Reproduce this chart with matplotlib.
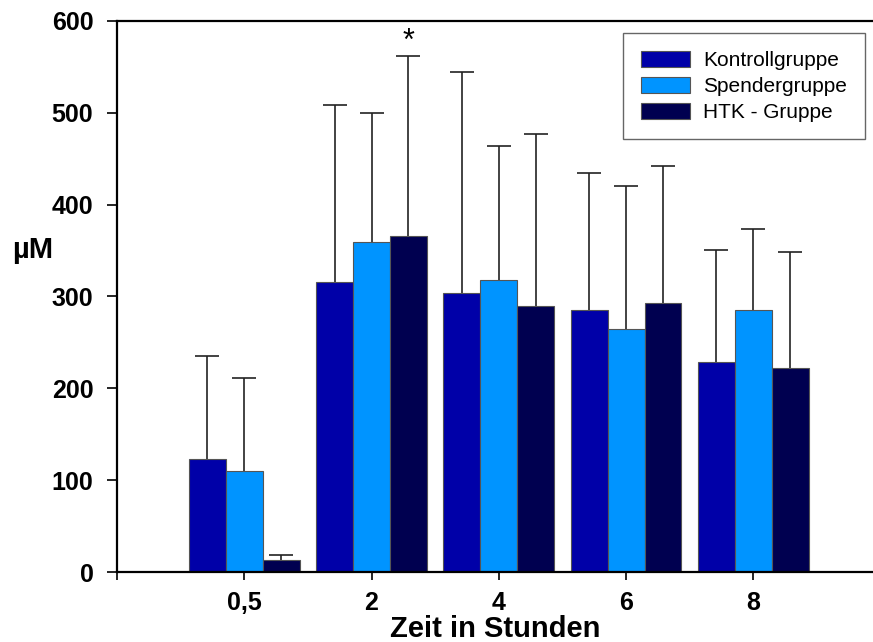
import matplotlib
matplotlib.use("Agg")
import matplotlib.pyplot as plt
import numpy as np

plt.rcParams['font.family'] = ['Liberation Sans', 'DejaVu Sans']

zeiten = ["0,5", "2", "4", "6", "8"]
gruppen = ["Kontrollgruppe", "Spendergruppe", "HTK - Gruppe"]
kontroll = [123, 316, 304, 285, 229]
kontroll_top = [235, 509, 544, 435, 351]
spender = [110, 359, 318, 265, 285]
spender_top = [211, 500, 464, 420, 373]
htk = [13, 366, 290, 293, 222]
htk_top = [19, 562, 477, 442, 349]
farben = ["#0000A8", "#0094FF", "#000050"]

fig = plt.figure(figsize=(8.73, 6.42), dpi=100)
ax = fig.add_axes([117 / 873, 70 / 642, 756 / 873, 551 / 642])

x = np.arange(len(zeiten))
w = 0.29
serien = [(kontroll, kontroll_top), (spender, spender_top), (htk, htk_top)]
for i, (werte, oben) in enumerate(serien):
    pos = x + (i - 1) * w
    err = np.array(oben) - np.array(werte)
    ax.bar(pos, werte, w, color=farben[i], edgecolor="#555555", linewidth=0.8,
           label=gruppen[i], zorder=2)
    _, caps, _ = ax.errorbar(pos, werte, yerr=[np.zeros(len(err)), err], fmt="none",
                             ecolor="#222222", elinewidth=1.2, capsize=8.5,
                             capthick=1.2, zorder=1)
    caps[0].set_visible(False)

# Signifikanz
ax.text(x[1] + w, 577, "*", ha="center", va="center", fontsize=22)

ax.set_xlim(-1, 4.94)
ax.set_ylim(0, 600)
ax.set_xticks(list(x) + [-1])
ax.set_xticklabels(zeiten + [""])
ax.set_yticks(range(0, 601, 100))
ax.tick_params(axis="x", direction="out", length=6, width=1.2, pad=8, labelsize=18)
ax.tick_params(axis="y", direction="out", length=7, width=1.2, pad=10, labelsize=18)
for lab in ax.get_xticklabels() + ax.get_yticklabels():
    lab.set_fontweight("bold")

for s in ["left", "top", "bottom"]:
    ax.spines[s].set_linewidth(1.6)
ax.spines["right"].set_visible(False)

ax.set_xlabel("Zeit in Stunden", fontsize=21, fontweight="bold", va="center")
ax.xaxis.set_label_coords(0.5, -0.104)
ax.set_ylabel("µM", fontsize=21, fontweight="bold", rotation=0, ha="center", va="center")
ax.yaxis.set_label_coords(-0.111, 0.584)

leg = ax.legend(loc="upper right", bbox_to_anchor=(0.989, 0.978), borderaxespad=0,
                fontsize=15, fancybox=False, framealpha=1, edgecolor="#666666",
                handlelength=2.35, handleheight=0.8, handletextpad=0.65,
                labelspacing=0.32, borderpad=0.85)
leg.get_frame().set_linewidth(1.0)

fig.savefig("out.png", dpi=100)
